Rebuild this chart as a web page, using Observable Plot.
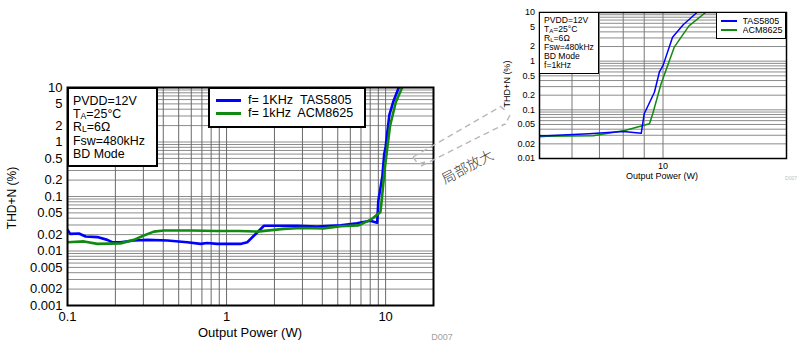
<!DOCTYPE html>
<html><head><meta charset="utf-8">
<script src="https://cdn.jsdelivr.net/npm/d3@7"></script>
<script src="https://cdn.jsdelivr.net/npm/@observablehq/plot@0.6"></script>
<style>
html,body{margin:0;padding:0;background:#fff;}
#wrap{position:relative;width:803px;height:359px;overflow:hidden;font-family:"Liberation Sans",Arial,sans-serif;color:#000;}
.abs{position:absolute;box-sizing:border-box;}
.box{background:#fff;border:2px solid #000;}
.box.small{border-width:1.5px;}
sub{font-size:0.7em;line-height:0;vertical-align:-0.12em;}
.ln{white-space:pre;overflow:hidden;}
</style></head><body><div id="wrap"></div>
<script>
// ---- data ----
const seriesNames = ["TAS5805", "ACM8625"];
const legendMain = ["f= 1KHz  TAS5805", "f= 1kHz  ACM8625"];
const seriesColors = ["#0000ff", "#118a11"];
const tasPower = [0.1, 0.104, 0.118, 0.13, 0.154, 0.178, 0.191, 0.215, 0.261, 0.317, 0.424, 0.566, 0.686, 0.755, 0.874, 1.22, 1.35, 1.72, 2.19, 2.78, 3.71, 5.22, 6.6, 8.0, 8.85, 9.0, 9.53, 9.8, 10.0, 10.55, 11.2, 12.1];
const tasThd   = [0.0245, 0.0206, 0.021, 0.0185, 0.018, 0.016, 0.0145, 0.0145, 0.0156, 0.016, 0.0156, 0.0145, 0.0135, 0.014, 0.0135, 0.0135, 0.0145, 0.029, 0.029, 0.029, 0.028, 0.0295, 0.0324, 0.036, 0.033, 0.083, 0.23, 0.6, 0.81, 3.1, 5.6, 10];
const acmPower = [0.1, 0.127, 0.154, 0.215, 0.261, 0.302, 0.349, 0.404, 0.6, 0.87, 1.2, 1.56, 2.28, 2.92, 4.08, 5.22, 6.76, 8.07, 9.27, 9.44, 9.89, 10.65, 11.57, 12.7];
const acmThd   = [0.0145, 0.015, 0.0135, 0.0138, 0.016, 0.0192, 0.0227, 0.0238, 0.0238, 0.0233, 0.0233, 0.0227, 0.0255, 0.0265, 0.026, 0.0285, 0.0295, 0.0376, 0.0517, 0.083, 0.34, 1.94, 5.3, 10];
const mainXTicks = [0.1, 1, 10];
const mainYTicks = [10, 5, 2, 1, 0.5, 0.2, 0.1, 0.05, 0.02, 0.01, 0.005, 0.002, 0.001];
const insetXTicks = [10];
const insetYTicks = [10, 5, 2, 1, 0.5, 0.2, 0.1, 0.05, 0.02, 0.01];
const annotLines = ["PVDD=12V", "T<sub>A</sub>=25°C", "R<sub>L</sub>=6Ω", "Fsw=480kHz", "BD Mode"];
const insetExtra = "f=1kHz";

const tas = tasPower.map((p, i) => ({p, t: tasThd[i]}));
const acm = acmPower.map((p, i) => ({p, t: acmThd[i]}));

function logGrid(lo, hi) {
  const out = [];
  for (let e = Math.floor(Math.log10(lo)); e <= Math.ceil(Math.log10(hi)); e++)
    for (let k = 1; k <= 9; k++) {
      const v = +(k * Math.pow(10, e)).toPrecision(3);
      if (v >= lo - 1e-12 && v <= hi + 1e-12) out.push(v);
    }
  return out;
}
const fmt = d => String(+d.toPrecision(3));
const wrap = document.getElementById("wrap");

function tickLabels(xt, yt, fs, padX, padY) {
  return [
    Plot.text(xt, {x: d => d, text: fmt, frameAnchor: "bottom", lineAnchor: "top", dy: padX, fontSize: fs, fill: "#000"}),
    Plot.text(yt, {y: d => d, text: fmt, frameAnchor: "left", textAnchor: "end", dx: -padY, fontSize: fs, fill: "#000"})
  ];
}

// ---- main chart ----
const main = Plot.plot({
  width: 440, height: 359,
  marginLeft: 67, marginRight: 7, marginTop: 87, marginBottom: 54,
  style: {fontFamily: "Liberation Sans, Arial, sans-serif", fontSize: "13px", color: "#000", background: "transparent"},
  x: {type: "log", domain: [0.1, 20], label: null, axis: null},
  y: {type: "log", domain: [0.001, 10], label: null, axis: null},
  marks: [
    Plot.ruleY(logGrid(0.001, 10), {stroke: "#8c8c8c", strokeWidth: 1}),
    Plot.ruleX(logGrid(0.1, 20), {stroke: "#6a6a6a", strokeWidth: 1}),
    ...tickLabels(mainXTicks, mainYTicks, 13, 6, 5),
    Plot.line(tas, {x: "p", y: "t", stroke: seriesColors[0], strokeWidth: 2.6, clip: true}),
    Plot.line(acm, {x: "p", y: "t", stroke: seriesColors[1], strokeWidth: 2.6, clip: true}),
    Plot.frame({stroke: "#000", strokeWidth: 2})
  ]
});
main.style.position = "absolute"; main.style.left = "0px"; main.style.top = "0px";
wrap.appendChild(main);

// ---- inset chart ----
const inset = Plot.plot({
  width: 300, height: 200,
  marginLeft: 39, marginRight: 14, marginTop: 12, marginBottom: 42,
  style: {fontFamily: "Liberation Sans, Arial, sans-serif", fontSize: "9px", color: "#000", background: "transparent"},
  x: {type: "log", domain: [5, 20], label: null, axis: null},
  y: {type: "log", domain: [0.01, 10], label: null, axis: null},
  marks: [
    Plot.ruleY(logGrid(0.01, 10), {stroke: "#8c8c8c", strokeWidth: 1}),
    Plot.ruleX(logGrid(5, 20), {stroke: "#7a7a7a", strokeWidth: 1}),
    ...tickLabels(insetXTicks, insetYTicks, 9, 4, 4.5),
    Plot.line(acm, {x: "p", y: "t", stroke: seriesColors[1], strokeWidth: 1.5, clip: true}),
    Plot.line(tas, {x: "p", y: "t", stroke: seriesColors[0], strokeWidth: 1.5, clip: true}),
    Plot.frame({stroke: "#000", strokeWidth: 1.5})
  ]
});
inset.style.position = "absolute"; inset.style.left = "500px"; inset.style.top = "0px";
wrap.appendChild(inset);

// ---- annotation boxes ----
function addBox(left, top, w, h, cls) {
  const d = document.createElement("div");
  d.className = "abs box " + (cls || "");
  Object.assign(d.style, {left: left + "px", top: top + "px", width: w + "px", height: h + "px"});
  wrap.appendChild(d);
  return d;
}
const a1 = addBox(67, 87, 91, 80);
a1.style.padding = "6px 0 0 4px"; a1.style.fontSize = "12.4px"; a1.style.lineHeight = "13.2px";
a1.innerHTML = annotLines.map(s => `<div class="ln" style="height:13.2px">${s}</div>`).join("");

const l1 = addBox(208, 87, 158, 41);
l1.style.fontSize = "12.6px";
legendMain.forEach((s, i) => {
  const row = document.createElement("div");
  row.className = "abs";
  Object.assign(row.style, {left: "6px", top: (5 + i * 13) + "px", height: "12.8px", lineHeight: "12.8px", display: "flex", alignItems: "center"});
  row.innerHTML = `<span style="display:inline-block;width:25px;height:3px;background:${seriesColors[i]};margin-right:7px"></span><span class="ln">${s}</span>`;
  l1.appendChild(row);
});

const a2 = addBox(539, 12, 60, 62, "small");
a2.style.padding = "2.5px 0 0 4px"; a2.style.fontSize = "8.6px"; a2.style.lineHeight = "9.1px";
a2.innerHTML = annotLines.concat([insetExtra]).map(s => `<div class="ln" style="height:9.1px">${s}</div>`).join("");

const l2 = addBox(716, 12, 70, 27, "small");
l2.style.fontSize = "9px";
seriesNames.forEach((s, i) => {
  const row = document.createElement("div");
  row.className = "abs";
  Object.assign(row.style, {left: "3.5px", top: (3.5 + i * 9) + "px", height: "8.8px", lineHeight: "8.8px", display: "flex", alignItems: "center"});
  row.innerHTML = `<span style="display:inline-block;width:16px;height:1.6px;background:${seriesColors[i]};margin-right:6px"></span><span class="ln">${s}</span>`;
  l2.appendChild(row);
});

// ---- overlay: titles, arrow, note ----
const ns = "http://www.w3.org/2000/svg";
const ov = document.createElementNS(ns, "svg");
ov.setAttribute("width", 803); ov.setAttribute("height", 359);
Object.assign(ov.style, {position: "absolute", left: "0", top: "0", pointerEvents: "none", fontFamily: "Liberation Sans, Arial, sans-serif"});
ov.innerHTML = `
  <text transform="translate(12,198) rotate(-90)" text-anchor="middle" dominant-baseline="central" font-size="12">THD+N (%)</text>
  <text x="250" y="332" text-anchor="middle" dominant-baseline="central" font-size="13">Output Power (W)</text>
  <text x="442" y="336.5" text-anchor="middle" dominant-baseline="central" font-size="9" fill="#a0a0a0">D007</text>
  <text transform="translate(507,84) rotate(-90)" text-anchor="middle" dominant-baseline="central" font-size="9">THD+N (%)</text>
  <text x="662" y="176" text-anchor="middle" dominant-baseline="central" font-size="9">Output Power (W)</text>
  <text x="791" y="178" text-anchor="middle" dominant-baseline="central" font-size="5" fill="#c0c0c0">D007</text>
  <g fill="none" stroke="#b8b8b8" stroke-width="1.4" stroke-dasharray="6,4">
    <path d="M413,157 L500,107"/>
    <path d="M421,166 L505,124"/>
    <path d="M413,157 L418,164 L425,162"/>
    <path d="M500,106 L507,112"/>
    <path d="M510,115 L505,125"/>
  </g>
  <text transform="translate(467,166) rotate(-28)" text-anchor="middle" dominant-baseline="central" font-size="14" fill="#333" style="font-family:'Noto Sans CJK SC',sans-serif;font-weight:300">局部放大</text>
`;
wrap.appendChild(ov);
</script>
</body></html>
